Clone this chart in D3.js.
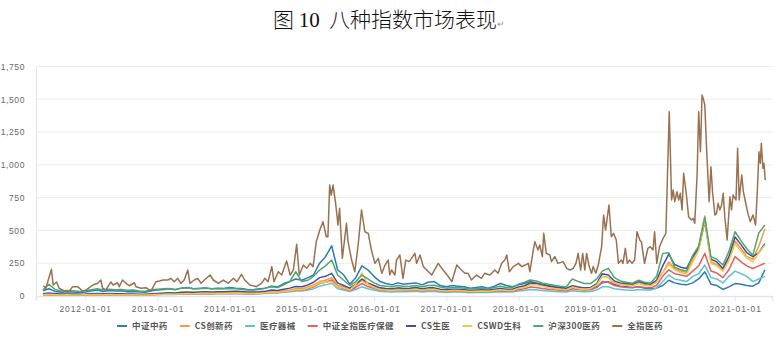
<!DOCTYPE html>
<html>
<head>
<meta charset="utf-8">
<script src="https://cdn.jsdelivr.net/npm/d3@7"></script>
<style>
  html, body { margin: 0; padding: 0; background: #fff; }
  svg { display: block; }
</style>
</head>
<body>
<svg id="chart" width="779" height="339"></svg>
<script>
// ---- Series names and colours (legend order) ----
const seriesNames = ["中证中药", "CS创新药", "医疗器械", "中证全指医疗保健", "CS生医", "CSWD生科", "沪深300医药", "全指医药"];
const seriesColors = ["#2b7bba", "#f5994a", "#5ec5cc", "#e85d62", "#40509f", "#f3c645", "#52a56c", "#9a7150"];

// Monthly observation dates, Jun 2011 – Jun 2021
const months = d3.timeMonth.range(new Date(2011, 5, 1), new Date(2021, 6, 1));

// Monthly values for the seven narrower indices (one row per year)
const zhongYao = [
  40, 55, 35, 28, 32, 30, 25,
  30, 38, 45, 35, 42, 38, 40, 33, 35, 30, 28, 40,
  45, 50, 55, 48, 60, 65, 55, 58, 62, 55, 60, 58,
  65, 60, 58, 50, 48, 55, 60, 75, 70, 95, 110, 130,
  120, 140, 160, 250, 300, 383, 200, 160, 90, 140, 230, 200,
  150, 110, 95, 85, 100, 90, 95, 100, 85, 105, 110, 80,
  70, 80, 75, 70, 60, 65, 70, 60, 75, 95, 80, 70,
  85, 95, 110, 100, 90, 80, 70, 65, 60, 75, 65, 60,
  55, 70, 100, 110, 90, 75, 70, 65, 70, 60, 55, 60,
  80, 120, 100, 90, 85, 100, 130, 185, 90, 80, 50, 70,
  95, 90, 80, 75, 100, 200
];
const chuangXinYao = [
  12, 15, 12, 10, 11, 10, 10,
  10, 12, 14, 12, 13, 12, 12, 11, 11, 10, 10, 12,
  14, 15, 17, 16, 20, 22, 20, 22, 25, 22, 24, 23,
  25, 26, 24, 22, 22, 25, 28, 35, 32, 40, 45, 55,
  55, 70, 85, 110, 120, 140, 80, 70, 50, 80, 120, 90,
  70, 55, 50, 45, 55, 50, 55, 60, 50, 55, 55, 45,
  40, 45, 45, 42, 38, 40, 42, 40, 45, 50, 45, 45,
  60, 70, 90, 95, 80, 70, 60, 55, 50, 70, 60, 55,
  60, 90, 150, 140, 100, 90, 85, 80, 100, 85, 80, 110,
  180, 260, 210, 190, 180, 280, 380, 610, 260, 240, 200, 280,
  420, 360, 300, 280, 380, 510
];
const qiXie = [
  10, 12, 10, 8, 9, 8, 8,
  9, 10, 11, 10, 11, 10, 10, 9, 9, 8, 8, 10,
  11, 12, 13, 12, 15, 16, 15, 16, 18, 16, 17, 17,
  18, 19, 18, 16, 16, 18, 20, 24, 22, 28, 32, 38,
  38, 45, 55, 75, 85, 97, 55, 45, 35, 50, 70, 55,
  45, 35, 32, 30, 35, 32, 34, 36, 30, 35, 35, 30,
  27, 30, 30, 28, 25, 27, 28, 27, 30, 33, 30, 30,
  38, 42, 50, 48, 42, 38, 35, 32, 30, 40, 35, 33,
  35, 45, 70, 70, 55, 50, 45, 42, 50, 45, 45, 60,
  110, 160, 130, 120, 110, 150, 170, 236, 140, 130, 100, 150,
  190, 170, 150, 110, 130, 150
];
const yiLiaoBaoJian = [
  10, 12, 10, 9, 9, 8, 8,
  9, 10, 11, 10, 11, 10, 10, 9, 9, 8, 8, 10,
  12, 13, 14, 13, 16, 18, 16, 18, 20, 18, 19, 19,
  20, 21, 20, 18, 18, 20, 23, 28, 26, 33, 38, 45,
  45, 55, 70, 95, 105, 122, 70, 55, 42, 65, 95, 72,
  58, 45, 42, 40, 45, 42, 44, 47, 40, 45, 45, 38,
  35, 38, 38, 35, 32, 34, 35, 34, 38, 42, 38, 38,
  48, 55, 68, 65, 58, 52, 47, 43, 40, 55, 48, 45,
  48, 65, 110, 105, 80, 70, 65, 62, 72, 65, 62, 80,
  150, 200, 170, 160, 150, 190, 230, 325, 190, 175, 140, 200,
  300, 260, 230, 210, 230, 250
];
const shengYi = [
  18, 22, 18, 15, 16, 15, 14,
  15, 18, 20, 17, 19, 17, 18, 16, 16, 14, 14, 18,
  20, 22, 25, 23, 28, 30, 28, 30, 33, 30, 32, 32,
  35, 36, 34, 30, 30, 33, 37, 45, 42, 52, 60, 72,
  70, 85, 105, 140, 150, 173, 100, 80, 60, 90, 130, 100,
  80, 62, 58, 55, 62, 58, 60, 65, 55, 62, 62, 52,
  48, 52, 52, 48, 44, 46, 48, 46, 52, 58, 52, 52,
  68, 78, 100, 95, 85, 75, 68, 62, 58, 78, 68, 62,
  65, 95, 170, 160, 115, 100, 95, 90, 110, 95, 90, 120,
  230, 320, 240, 220, 210, 300, 360, 567, 280, 260, 210, 300,
  450, 390, 330, 300, 330, 400
];
const shengKe = [
  10, 13, 10, 8, 9, 8, 8,
  9, 10, 12, 10, 11, 10, 10, 9, 9, 8, 8, 10,
  12, 13, 15, 14, 17, 19, 17, 19, 21, 19, 20, 20,
  21, 22, 21, 19, 19, 21, 24, 30, 28, 35, 40, 48,
  48, 60, 75, 100, 105, 110, 70, 60, 45, 90, 175, 90,
  65, 50, 45, 42, 48, 45, 48, 52, 44, 50, 50, 42,
  38, 42, 42, 38, 35, 37, 39, 37, 42, 47, 42, 42,
  58, 66, 85, 85, 75, 65, 58, 52, 48, 68, 58, 52,
  58, 85, 150, 140, 100, 88, 82, 78, 95, 82, 78, 105,
  180, 240, 200, 180, 170, 260, 350, 580, 250, 230, 190, 270,
  400, 340, 290, 260, 330, 389
];
const hs300YiYao = [
  45, 90, 50, 38, 42, 40, 35,
  40, 48, 55, 45, 52, 48, 50, 43, 45, 38, 36, 50,
  52, 55, 58, 50, 60, 62, 55, 58, 60, 55, 58, 55,
  58, 55, 52, 46, 45, 50, 60, 70, 65, 85, 110, 185,
  110, 120, 150, 198, 230, 274, 160, 120, 80, 110, 160, 130,
  100, 80, 75, 70, 80, 72, 75, 80, 70, 80, 82, 68,
  60, 65, 65, 60, 55, 58, 60, 58, 65, 75, 65, 65,
  90, 105, 122, 115, 100, 90, 82, 75, 70, 130, 110, 95,
  95, 130, 190, 211, 140, 115, 105, 97, 120, 105, 100, 150,
  325, 330, 220, 200, 190, 310, 380, 600, 300, 280, 236, 340,
  490, 420, 360, 310, 480, 541
];

// Broad index 全指医药, sampled more densely
const quanZhiDates = [
  "2011-06-03","2011-06-16","2011-07-14","2011-07-23","2011-08-09","2011-08-22","2011-09-17","2011-10-12","2011-10-29","2011-11-24","2011-12-19",
  "2012-01-06","2012-02-09","2012-03-04","2012-03-20","2012-03-29","2012-04-15","2012-05-10","2012-05-21","2012-06-13","2012-06-21","2012-07-08","2012-07-25","2012-08-11","2012-09-06","2012-09-14","2012-10-09","2012-11-04","2012-11-29","2012-12-24",
  "2013-01-11","2013-01-28","2013-02-22","2013-03-09","2013-03-26","2013-04-13","2013-04-29","2013-05-16","2013-06-03","2013-06-14","2013-07-06","2013-07-23","2013-08-09","2013-08-26","2013-09-24","2013-10-10","2013-11-05","2013-11-30","2013-12-25",
  "2014-01-20","2014-02-07","2014-03-02","2014-03-18","2014-04-13","2014-05-17","2014-06-11","2014-06-28","2014-07-14","2014-08-02","2014-08-13","2014-09-04","2014-09-21","2014-10-16","2014-11-03","2014-11-19","2014-12-06","2014-12-19",
  "2015-01-09","2015-01-26","2015-02-12","2015-02-27","2015-03-15","2015-04-02","2015-04-18","2015-05-05","2015-05-13","2015-05-22","2015-05-30","2015-06-08","2015-06-21","2015-07-03","2015-07-11","2015-07-25","2015-08-15","2015-08-23","2015-09-10","2015-09-26","2015-10-13","2015-10-30","2015-11-16","2015-12-03","2015-12-19",
  "2016-01-06","2016-01-23","2016-02-10","2016-02-26","2016-03-13","2016-03-21","2016-03-30","2016-04-16","2016-04-24","2016-05-11","2016-05-27","2016-06-10","2016-06-27","2016-07-09","2016-07-26","2016-08-04","2016-08-21","2016-09-07","2016-09-24","2016-10-19","2016-11-21","2016-12-16",
  "2017-01-12","2017-01-29","2017-02-23","2017-03-10","2017-04-05","2017-04-21","2017-05-08","2017-06-03","2017-06-28","2017-07-14","2017-08-09","2017-09-04","2017-09-20","2017-10-08","2017-10-24","2017-11-03","2017-11-16","2017-12-06",
  "2018-01-01","2018-01-18","2018-02-04","2018-02-20","2018-02-28","2018-03-16","2018-03-25","2018-04-10","2018-04-19","2018-05-02","2018-05-09","2018-05-22","2018-06-09","2018-06-17","2018-07-04","2018-07-20","2018-08-15","2018-09-02","2018-09-19","2018-10-05","2018-10-19","2018-10-30","2018-11-12","2018-11-22","2018-12-03","2018-12-12","2018-12-25",
  "2019-01-06","2019-01-14","2019-01-28","2019-02-09","2019-02-26","2019-03-08","2019-03-18","2019-04-04","2019-04-16","2019-04-27","2019-05-11","2019-05-22","2019-06-06","2019-06-14","2019-06-26","2019-07-06","2019-07-17","2019-07-30","2019-08-12","2019-08-24","2019-09-07","2019-09-15","2019-10-01","2019-10-18","2019-10-30","2019-11-13","2019-11-21","2019-12-02","2019-12-16",
  "2020-01-03","2020-01-17","2020-02-03","2020-02-15","2020-02-23","2020-03-02","2020-03-13","2020-03-22","2020-03-30","2020-04-08","2020-04-16","2020-04-30","2020-05-11","2020-05-25","2020-06-03","2020-06-11","2020-06-23","2020-07-01","2020-07-10","2020-07-18","2020-07-26","2020-08-01","2020-08-10","2020-08-23","2020-09-01","2020-09-09","2020-09-21","2020-09-29","2020-10-07","2020-10-16","2020-10-25","2020-11-02","2020-11-10","2020-11-22","2020-12-06","2020-12-14","2020-12-22",
  "2021-01-06","2021-01-14","2021-01-22","2021-02-04","2021-02-12","2021-02-26","2021-03-07","2021-03-19","2021-04-02","2021-04-15","2021-04-24","2021-05-02","2021-05-09","2021-05-14","2021-05-22","2021-05-27","2021-06-03"
];
const quanZhiValues = [
  78, 60, 204, 84, 107, 59, 38, 33, 71, 71, 38,
  46, 84, 97, 122, 59, 46, 107, 84, 101, 71, 122, 97, 78, 101, 71, 59, 63, 38, 109,
  114, 122, 122, 135, 109, 135, 97, 122, 198, 97, 122, 135, 97, 122, 160, 122, 97, 122, 97,
  135, 109, 165, 122, 84, 71, 97, 135, 109, 224, 109, 185, 160, 267, 160, 198, 394, 160,
  236, 211, 249, 224, 414, 503, 567, 452, 452, 846, 770, 846, 707, 541, 669, 287, 554, 414, 274, 185, 389, 656, 490, 477, 351,
  249, 287, 173, 236, 274, 160, 198, 160, 274, 313, 135, 274, 262, 287, 325, 249, 313, 224, 198, 160, 249, 198,
  147, 109, 236, 211, 173, 173, 122, 160, 135, 173, 160, 198, 173, 249, 274, 313, 185, 224,
  249, 224, 236, 249, 185, 338, 414, 351, 389, 300, 478, 325, 313, 262, 300, 249, 262, 211, 198, 211, 249, 325, 198, 325, 198, 325, 224,
  173, 224, 173, 236, 376, 618, 503, 694, 452, 478, 427, 249, 274, 249, 364, 249, 274, 249, 274, 490, 427, 414, 249, 364, 376, 351, 490, 249, 376,
  440, 478, 1405, 732, 808, 719, 795, 732, 783, 656, 936, 770, 605, 580, 592, 554, 923, 1405, 1100, 1533, 1495, 1456, 1126, 719, 986, 795, 618, 630, 707, 656, 694, 783, 605, 427, 757, 656, 770,
  732, 1126, 732, 923, 795, 694, 630, 567, 618, 541, 808, 1100, 1012, 1164, 974, 1012, 885
];

// Axis tick values
const yTicks = [0, 250, 500, 750, 1000, 1250, 1500, 1750];
const xTickYears = [2012, 2013, 2014, 2015, 2016, 2017, 2018, 2019, 2020, 2021];

// ---- Build series ----
const parse = d3.timeParse("%Y-%m-%d");
const monthlySeries = [zhongYao, chuangXinYao, qiXie, yiLiaoBaoJian, shengYi, shengKe, hs300YiYao];
const series = monthlySeries.map((vals, i) => ({
  name: seriesNames[i],
  color: seriesColors[i],
  points: vals.map((v, j) => ({ date: months[j], value: v }))
}));
series.push({
  name: seriesNames[7],
  color: seriesColors[7],
  points: quanZhiValues.map((v, j) => ({ date: parse(quanZhiDates[j]), value: v }))
});

// ---- Layout ----
const svg = d3.select("#chart");
const plot = { left: 36, right: 772, top: 66.5, bottom: 296 };

const x = d3.scaleTime()
  .domain([new Date(2011, 3, 27), new Date(2021, 6, 7)])
  .range([plot.left, plot.right]);
const y = d3.scaleLinear()
  .domain([0, 1750])
  .range([plot.bottom, plot.top]);

// Title (whitespace kept so the gaps around the figure number survive)
const title = svg.append("text")
  .attr("x", 389)
  .attr("y", 27)
  .attr("text-anchor", "middle")
  .style("white-space", "pre")
  .attr("font-family", "'Noto Sans CJK SC', sans-serif")
  .attr("font-size", 21)
  .attr("font-weight", 300)
  .attr("fill", "#111");
title.append("tspan").text("图 ");
title.append("tspan").attr("font-family", "'Liberation Serif', serif").text("10");
title.append("tspan").text("  八种指数市场表现");
title.append("tspan").attr("font-size", 9).attr("fill", "#999").attr("font-family", "'DejaVu Sans', sans-serif").text("↵");

// Horizontal gridlines
svg.append("g")
  .selectAll("line")
  .data(yTicks.filter(d => d > 0))
  .join("line")
  .attr("x1", plot.left)
  .attr("x2", plot.right)
  .attr("y1", d => y(d))
  .attr("y2", d => y(d))
  .attr("stroke", "#ececec")
  .attr("stroke-width", 1);

// Y axis
const yAxis = svg.append("g")
  .attr("transform", `translate(${plot.left},0)`)
  .call(d3.axisLeft(y).tickValues(yTicks).tickSize(0).tickPadding(11).tickFormat(d3.format(",")));
yAxis.select(".domain").attr("stroke", "#dfe5ef");
yAxis.selectAll("text")
  .attr("font-family", "'Liberation Sans', Arial, sans-serif")
  .attr("font-size", 8.5)
  .attr("letter-spacing", 0.6)
  .attr("fill", "#666");

// X axis
const xAxis = svg.append("g")
  .attr("transform", `translate(0,${plot.bottom})`)
  .call(d3.axisBottom(x)
    .tickValues(xTickYears.map(yr => new Date(yr, 0, 1)))
    .tickSize(5)
    .tickPadding(5)
    .tickFormat(d3.timeFormat("%Y-%m-%d")));
xAxis.select(".domain").attr("stroke", "#dfe5ef").attr("stroke-width", 1.5);
xAxis.selectAll(".tick line").attr("stroke", "#dfe5ef");
xAxis.selectAll("text")
  .attr("font-family", "'Liberation Sans', Arial, sans-serif")
  .attr("font-size", 8.5)
  .attr("letter-spacing", 0.9)
  .attr("fill", "#666");

// Lines
const line = d3.line()
  .x(d => x(d.date))
  .y(d => y(d.value));
svg.append("g")
  .selectAll("path")
  .data(series)
  .join("path")
  .attr("d", d => line(d.points))
  .attr("fill", "none")
  .attr("stroke", d => d.color)
  .attr("stroke-width", 1.5)
  .attr("stroke-linejoin", "round");

// Legend
const legend = svg.append("g").attr("transform", "translate(0,326)");
const items = legend.selectAll("g")
  .data(series)
  .join("g");
items.append("line")
  .attr("x1", 0).attr("x2", 10)
  .attr("y1", 0).attr("y2", 0)
  .attr("stroke", d => d.color)
  .attr("stroke-width", 2);
items.append("text")
  .attr("x", 15)
  .attr("y", 3.3)
  .attr("font-family", "'Noto Sans CJK SC', sans-serif")
  .attr("font-size", 8.5)
  .attr("font-weight", 700)
  .attr("letter-spacing", 0.4)
  .attr("fill", "#555")
  .text(d => d.name);
// Lay out items in one centred row
const gap = 12;
const widths = [];
items.each(function () {
  widths.push(this.getBBox().width);
});
const total = d3.sum(widths) + gap * (widths.length - 1);
let cursor = 390 - total / 2;
items.each(function (d, i) {
  d3.select(this).attr("transform", `translate(${cursor},0)`);
  cursor += widths[i] + gap;
});
</script>
</body>
</html>
